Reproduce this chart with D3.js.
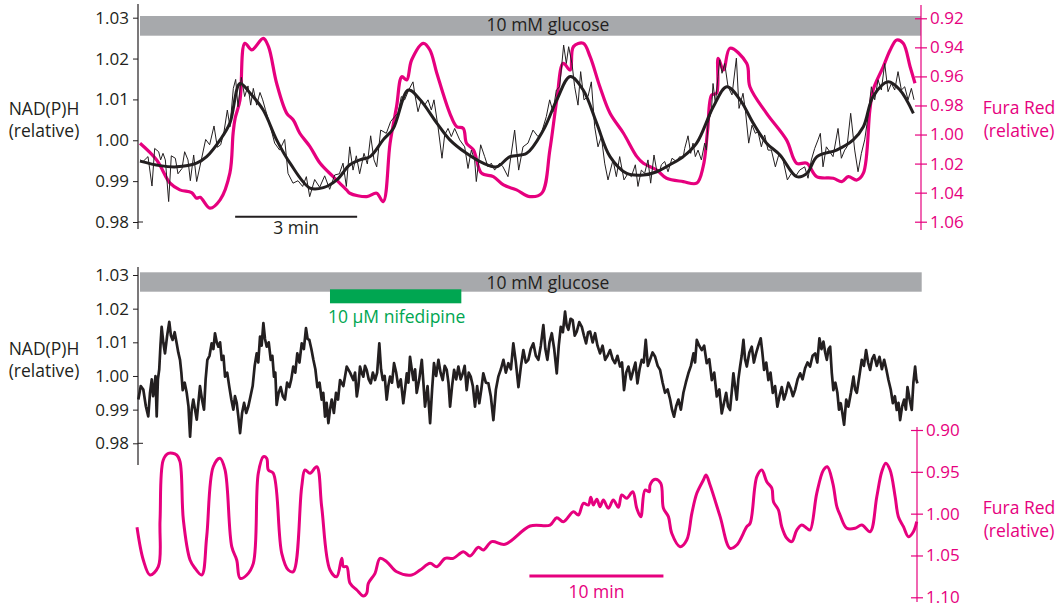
<!DOCTYPE html>
<html><head><meta charset="utf-8">
<script src="https://cdn.jsdelivr.net/npm/d3@7"></script>
<style>
body{margin:0;background:#fff;}
text{font-family:"Open Sans","Noto Sans",sans-serif;}
</style></head>
<body><svg id="c" width="1062" height="607"></svg>
<script>
// ---------------- DATA (time in minutes, values relative) ----------------
const nadTicks = [0.98, 0.99, 1.00, 1.01, 1.02, 1.03];
const furaTicksTop = [0.92, 0.94, 0.96, 0.98, 1.00, 1.02, 1.04, 1.06];
const furaTicksBottom = [0.90, 0.95, 1.00, 1.05, 1.10];
const glucoseLabel = "10 mM glucose";
const nifedipineLabel = "10 µM nifedipine";
const nifedipinePeriod = [14.4, 24.2];
const scaleBarTop = [2.34, 5.34];      // 3 min
const scaleBarBottom = [29.28, 39.28]; // 10 min

const topFuraRed = [[0,1.006],[0.41,1.0175],[0.74,1.0335],[0.98,1.0381],[1.27,1.040],[1.39,1.0438],[1.48,1.0432],[1.72,1.0507],[1.97,1.045],[2.21,1.0266],[2.29,0.9991],[2.34,0.9888],[2.46,0.9762],[2.58,0.9372],[2.75,0.9418],[3.03,0.9338],[3.16,0.9395],[3.36,0.9647],[3.61,0.9854],[3.77,0.990],[3.93,0.9991],[4.18,1.0083],[4.43,1.0198],[4.75,1.029],[5.08,1.0381],[5.16,1.0404],[5.58,1.0427],[5.82,1.0404],[5.98,1.0462],[6.15,1.006],[6.31,0.9808],[6.44,0.9602],[6.56,0.9624],[6.68,0.9487],[6.97,0.9372],[7.13,0.9418],[7.30,0.9578],[7.62,0.9854],[7.79,0.9946],[7.95,0.9957],[8.03,1.006],[8.20,1.0106],[8.40,1.0266],[8.69,1.029],[8.94,1.0347],[9.26,1.0381],[9.59,1.0427],[9.88,1.0404],[10.08,1.0106],[10.25,0.9762],[10.41,0.951],[10.58,0.9556],[10.66,0.9395],[10.90,0.9372],[11.07,0.9464],[11.31,0.9671],[11.56,0.9854],[11.89,0.9991],[12.22,1.0152],[12.38,1.0198],[12.71,1.0244],[12.95,1.0301],[13.36,1.0324],[13.69,1.0335],[13.85,1.0221],[13.96,0.9969],[14.06,0.9728],[14.18,0.9716],[14.22,0.9475],[14.35,0.9556],[14.51,0.9406],[14.92,0.951],[15.0,0.9671],[15.41,0.9854],[15.9,1.0037],[16.15,1.0198],[16.40,1.0198],[16.64,1.029],[17.05,1.0301],[17.26,1.0324],[17.42,1.029],[17.63,1.0313],[17.79,1.0266],[17.95,0.9831],[18.03,0.9693],[18.28,0.9533],[18.45,0.9418],[18.61,0.9349],[18.77,0.9372],[18.94,0.9533],[19.06,0.9647]];

const topNadSmooth = [[0,0.9949],[0.49,0.9938],[0.90,0.9935],[1.39,0.9944],[1.64,0.996],[1.97,1.0001],[2.21,1.0042],[2.46,1.0139],[2.71,1.0115],[3.03,1.0074],[3.36,1.0001],[3.69,0.9944],[4.18,0.9883],[4.51,0.9884],[4.84,0.9903],[5.16,0.994],[5.41,0.9952],[5.66,0.996],[5.98,1.0001],[6.23,1.0029],[6.60,1.0123],[6.89,1.0099],[7.30,1.0042],[7.62,1.0001],[8.03,0.9968],[8.44,0.9944],[8.77,0.9935],[9.10,0.996],[9.51,0.9968],[9.92,1.0025],[10.25,1.0099],[10.58,1.0156],[10.90,1.0123],[11.23,1.0042],[11.56,0.996],[11.97,0.9919],[12.38,0.9915],[12.71,0.9923],[13.03,0.994],[13.36,0.996],[13.69,0.9993],[14.10,1.0082],[14.43,1.0131],[14.76,1.0099],[15.08,1.0042],[15.41,0.9993],[15.74,0.9964],[16.15,0.9911],[16.40,0.9919],[16.65,0.996],[17.13,0.9976],[17.54,1.0001],[17.79,1.0033],[18.03,1.0107],[18.40,1.0143],[18.69,1.0123],[19.02,1.0066]];

const topNadRaw = [[0,0.9952],[0.074,0.9948],[0.197,0.9960],[0.295,0.9888],[0.361,0.9980],[0.459,0.9972],[0.508,0.9952],[0.566,0.9968],[0.623,0.9952],[0.705,0.9850],[0.770,0.9962],[0.869,0.9956],[0.934,0.9918],[1.033,0.9931],[1.098,0.9972],[1.180,0.9952],[1.238,0.9901],[1.320,0.9964],[1.394,0.9899],[1.508,0.9952],[1.615,1.0002],[1.713,0.9989],[1.820,1.0035],[1.902,0.9983],[1.984,0.9989],[2.066,1.0021],[2.148,1.0074],[2.213,1.0033],[2.295,1.0127],[2.353,1.0149],[2.410,1.0082],[2.492,1.0154],[2.574,1.0107],[2.656,1.0133],[2.722,1.0086],[2.787,1.0127],[2.869,1.0086],[2.951,1.0117],[3.017,1.0099],[3.082,1.0076],[3.189,1.0040],[3.312,0.9993],[3.435,0.9976],[3.558,1.0002],[3.640,0.9919],[3.763,0.9895],[3.886,0.9901],[4.000,0.9887],[4.091,0.9911],[4.173,0.9862],[4.296,0.9904],[4.419,0.9885],[4.542,0.9913],[4.665,0.9880],[4.788,0.9915],[4.903,0.9918],[4.993,0.9944],[5.075,0.9887],[5.157,0.9984],[5.239,0.9927],[5.320,0.9962],[5.402,0.9918],[5.509,0.9968],[5.591,0.9942],[5.673,1.0011],[5.755,0.9952],[5.821,0.9935],[5.919,1.0025],[6.058,1.0017],[6.165,1.0046],[6.263,1.0058],[6.345,1.0066],[6.427,1.0107],[6.509,1.0099],[6.607,1.0123],[6.714,1.0143],[6.755,1.0115],[6.837,1.0070],[6.919,1.0099],[7.001,1.0086],[7.083,1.0099],[7.165,1.0074],[7.230,1.0099],[7.329,1.0033],[7.427,0.9956],[7.493,1.0013],[7.575,1.0029],[7.657,1.0009],[7.739,1.0029],[7.862,1.0001],[7.985,0.9984],[8.067,0.9931],[8.149,0.9976],[8.230,0.9952],[8.271,0.9899],[8.378,0.9989],[8.476,0.9960],[8.558,0.9935],[8.640,0.9944],[8.722,0.9927],[8.845,0.9944],[8.927,0.9935],[9.050,0.9911],[9.214,1.0025],[9.313,0.9927],[9.419,0.9984],[9.542,0.9993],[9.665,1.0025],[9.788,1.0009],[9.870,1.0017],[9.993,1.0058],[10.075,1.0099],[10.157,1.0070],[10.239,1.0123],[10.321,1.0131],[10.419,1.0233],[10.485,1.0188],[10.542,1.0229],[10.624,1.0188],[10.690,1.0131],[10.772,1.0086],[10.837,1.0168],[10.919,1.0099],[11.018,1.0107],[11.100,1.0143],[11.182,1.0033],[11.264,0.9984],[11.346,1.0009],[11.428,0.9944],[11.510,0.9903],[11.633,0.9952],[11.715,0.9911],[11.797,0.9960],[11.903,0.9903],[12.002,0.9919],[12.083,0.9911],[12.182,0.9940],[12.247,0.9887],[12.329,0.9927],[12.411,0.9919],[12.493,0.9952],[12.559,0.9895],[12.641,0.9964],[12.706,0.9927],[12.788,0.9927],[12.822,0.9940],[12.904,0.9948],[12.986,0.9923],[13.084,0.9956],[13.191,0.9948],[13.273,0.9960],[13.355,0.9956],[13.396,0.9980],[13.478,1.0011],[13.543,0.9968],[13.601,0.9993],[13.658,0.9960],[13.724,0.9976],[13.806,0.9952],[13.888,0.9993],[13.929,0.9976],[13.970,1.0042],[14.052,1.0070],[14.093,1.0139],[14.150,1.0090],[14.216,1.0156],[14.257,1.0197],[14.314,1.0164],[14.380,1.0188],[14.462,1.0131],[14.560,1.0111],[14.667,1.0201],[14.732,1.0078],[14.830,1.0115],[14.888,1.0074],[14.970,0.9993],[15.052,1.0037],[15.134,1.0017],[15.199,1.0021],[15.281,0.9984],[15.363,1.0013],[15.445,0.9976],[15.527,0.9976],[15.626,0.9935],[15.708,0.9964],[15.814,0.9952],[15.921,0.9903],[16.019,0.9919],[16.118,0.9911],[16.224,0.9927],[16.347,0.9935],[16.429,0.9907],[16.511,0.9952],[16.593,0.9980],[16.675,1.0001],[16.732,1.0017],[16.798,0.9935],[16.880,0.9984],[16.962,0.9972],[17.044,0.9960],[17.167,1.0029],[17.249,0.9956],[17.331,0.9976],[17.388,0.9984],[17.478,1.0066],[17.577,0.9976],[17.659,0.9923],[17.741,0.9968],[17.823,1.0001],[17.905,1.0058],[17.987,1.0131],[18.069,1.0099],[18.151,1.0148],[18.233,1.0123],[18.315,1.0188],[18.397,1.0119],[18.479,1.0139],[18.561,1.0123],[18.643,1.0168],[18.725,1.0123],[18.807,1.0131],[18.889,1.0099],[18.971,1.0127],[19.036,1.0099]];

const bottomNad = [[0.10,0.993],[0.28,0.997],[0.47,0.996],[0.66,0.991],[0.84,0.988],[0.97,0.995],[1.10,0.999],[1.20,0.994],[1.29,0.996],[1.38,1.000],[1.47,0.988],[1.56,0.999],[1.66,1.002],[1.75,1.009],[1.84,1.0146],[1.96,1.010],[2.09,1.0067],[2.25,1.012],[2.41,1.0161],[2.53,1.012],[2.66,1.0107],[2.81,1.013],[2.96,1.0097],[3.08,1.007],[3.21,1.0048],[3.31,1.001],[3.41,0.9958],[3.56,0.998],[3.71,0.995],[3.84,0.991],[3.96,0.982],[4.08,0.990],[4.20,0.993],[4.33,0.990],[4.46,0.987],[4.58,0.992],[4.70,0.997],[4.85,0.993],[5.00,0.990],[5.12,0.999],[5.25,1.0048],[5.41,1.006],[5.57,1.0097],[5.70,1.008],[5.82,1.0127],[5.95,1.010],[6.07,1.0087],[6.20,1.010],[6.32,1.0048],[6.45,1.006],[6.57,0.9998],[6.73,1.001],[6.89,0.9967],[7.04,0.993],[7.19,0.990],[7.31,0.994],[7.44,0.992],[7.56,0.988],[7.69,0.983],[7.84,0.989],[7.99,0.992],[8.15,0.989],[8.31,0.991],[8.47,0.994],[8.63,0.997],[8.78,1.003],[8.93,1.0067],[9.05,1.004],[9.18,1.0117],[9.30,1.009],[9.43,1.0157],[9.55,1.011],[9.68,1.0087],[9.83,1.010],[9.98,1.0048],[10.10,1.006],[10.22,0.9998],[10.32,1.001],[10.42,0.9914],[10.57,0.995],[10.72,0.9967],[10.88,0.994],[11.04,0.993],[11.20,0.998],[11.37,0.9967],[11.51,0.999],[11.66,1.0028],[11.81,1.001],[11.96,1.0067],[12.12,1.004],[12.29,1.0097],[12.45,1.008],[12.61,1.0142],[12.73,1.011],[12.86,1.0107],[13.01,1.008],[13.16,1.0048],[13.31,1.002],[13.46,0.9967],[13.62,0.998],[13.78,0.993],[13.90,0.995],[14.03,0.9879],[14.15,0.992],[14.28,0.986],[14.40,0.990],[14.53,0.993],[14.69,0.989],[14.85,0.995],[15.00,0.993],[15.15,0.9988],[15.40,0.997],[15.65,1.0028],[15.90,1.001],[16.14,0.9988],[16.27,1.001],[16.40,0.9939],[16.52,0.997],[16.64,1.0028],[16.76,1.001],[16.89,0.9998],[17.01,1.003],[17.14,1.0018],[17.29,0.999],[17.44,0.9978],[17.60,1.001],[17.76,0.9988],[17.92,1.001],[18.08,1.0097],[18.21,1.002],[18.34,0.9988],[18.48,1.000],[18.63,0.993],[18.75,0.997],[18.88,0.9998],[19.03,0.998],[19.18,1.0038],[19.34,1.001],[19.50,0.9967],[19.68,0.999],[19.87,0.9919],[20.00,0.996],[20.13,1.0008],[20.25,0.998],[20.37,1.0057],[20.50,1.002],[20.62,0.9988],[20.75,1.002],[20.87,0.995],[21.06,0.999],[21.25,1.0048],[21.37,0.998],[21.49,0.9909],[21.68,0.997],[21.87,0.986],[22.02,0.996],[22.16,1.0038],[22.32,1.000],[22.49,1.0048],[22.65,1.001],[22.81,0.9988],[22.96,1.003],[23.11,1.0018],[23.24,0.998],[23.36,0.9909],[23.51,0.997],[23.66,1.0018],[23.82,0.999],[23.98,1.0028],[24.15,0.999],[24.31,1.0008],[24.45,1.003],[24.60,0.9958],[24.75,1.001],[24.90,0.9998],[25.06,0.997],[25.22,0.9909],[25.38,0.997],[25.54,0.9919],[25.69,0.996],[25.84,1.0008],[26.03,0.998],[26.22,0.9978],[26.40,0.994],[26.59,0.9869],[26.78,0.996],[26.96,0.9998],[27.15,1.002],[27.34,1.0048],[27.52,1.001],[27.71,1.0038],[27.90,1.002],[28.08,1.0097],[28.27,1.004],[28.46,0.9967],[28.65,1.003],[28.83,1.0077],[29.01,1.004],[29.20,1.0048],[29.38,1.008],[29.57,1.0097],[29.76,1.006],[29.95,1.0048],[30.13,1.009],[30.32,1.0151],[30.47,1.008],[30.62,1.0048],[30.78,1.010],[30.95,1.0127],[31.13,1.008],[31.32,1.0008],[31.47,1.009],[31.62,1.0146],[31.78,1.013],[31.94,1.0191],[32.06,1.015],[32.19,1.0137],[32.35,1.017],[32.51,1.0166],[32.66,1.012],[32.81,1.0132],[33.00,1.016],[33.19,1.0146],[33.35,1.012],[33.51,1.0097],[33.66,1.013],[33.81,1.0132],[34.00,1.010],[34.18,1.0127],[34.36,1.009],[34.55,1.0067],[34.74,1.009],[34.93,1.0048],[35.11,1.006],[35.30,1.0077],[35.49,1.005],[35.67,1.0038],[35.85,1.006],[36.04,1.0028],[36.19,1.004],[36.34,0.9958],[36.50,1.001],[36.67,1.0028],[36.85,0.999],[37.04,1.0018],[37.19,1.004],[37.34,0.9978],[37.50,1.002],[37.66,1.0048],[37.81,1.004],[37.96,1.0107],[38.12,1.003],[38.28,1.0048],[38.47,1.007],[38.66,1.0057],[38.85,1.003],[39.03,1.0018],[39.22,0.998],[39.40,0.995],[39.59,0.996],[39.78,0.993],[39.92,0.990],[40.07,0.9879],[40.23,0.991],[40.40,0.993],[40.58,0.990],[40.77,0.995],[40.95,0.998],[41.14,1.0008],[41.33,1.003],[41.52,1.0067],[41.64,1.004],[41.77,1.0107],[41.95,1.009],[42.14,1.0077],[42.32,1.009],[42.51,1.0038],[42.70,1.005],[42.89,0.9988],[43.07,1.001],[43.26,0.9939],[43.45,0.996],[43.63,0.9889],[43.80,0.992],[43.96,0.995],[44.10,0.991],[44.25,0.9899],[44.37,0.995],[44.50,1.0008],[44.62,0.997],[44.75,0.993],[44.87,0.999],[45.00,1.0028],[45.12,1.006],[45.25,1.0107],[45.37,1.005],[45.50,1.0028],[45.69,1.007],[45.87,1.0087],[46.03,1.004],[46.19,1.0067],[46.36,1.009],[46.54,1.0112],[46.66,1.007],[46.79,1.0018],[46.95,1.004],[47.11,0.9988],[47.27,1.001],[47.44,0.995],[47.61,0.997],[47.78,0.9909],[47.94,0.994],[48.11,0.9967],[48.27,0.993],[48.43,0.995],[48.60,0.998],[48.78,0.9963],[48.94,0.994],[49.10,0.9958],[49.29,0.999],[49.48,1.0008],[49.66,0.999],[49.85,1.0023],[50.03,1.004],[50.22,1.0028],[50.41,1.006],[50.60,1.0067],[50.76,1.004],[50.92,1.0112],[51.07,1.008],[51.22,1.0102],[51.35,1.007],[51.47,1.0048],[51.60,1.008],[51.72,1.0087],[51.84,1.001],[51.96,0.9958],[52.11,0.998],[52.26,0.995],[52.38,0.990],[52.51,0.9919],[52.63,0.989],[52.76,0.9855],[52.92,0.993],[53.08,0.9909],[53.27,0.995],[53.46,0.9998],[53.58,0.996],[53.71,0.995],[53.90,1.000],[54.08,1.0048],[54.24,1.003],[54.40,1.0077],[54.55,1.004],[54.70,1.0018],[54.85,1.005],[55.00,1.0062],[55.20,1.003],[55.40,1.0057],[55.58,1.002],[55.75,1.0048],[55.91,1.002],[56.07,0.9988],[56.24,0.996],[56.40,0.9919],[56.55,0.994],[56.69,0.9899],[56.82,0.992],[56.94,0.9869],[57.09,0.991],[57.24,0.993],[57.37,0.990],[57.49,0.9967],[57.65,0.993],[57.81,0.9899],[57.93,0.998],[58.06,1.0028],[58.15,0.999],[58.23,0.9978]];

const bottomFuraRed = [[0,1.0163],[0.47,1.0554],[0.97,1.0733],[1.59,1.0634],[1.72,1.0076],[1.96,0.9359],[2.34,0.9279],[2.96,0.9299],[3.21,0.9379],[3.46,1.0076],[3.96,1.0554],[4.33,1.0653],[4.83,1.0733],[5.20,1.0276],[5.69,0.9439],[6.19,0.9338],[6.57,0.9478],[7.07,1.0395],[7.44,1.0554],[7.69,1.0773],[8.19,1.0733],[8.68,1.0594],[9.05,0.9518],[9.43,0.9319],[9.68,0.9338],[9.80,0.9478],[10.17,0.9518],[10.80,1.0474],[11.29,1.0674],[11.66,1.0694],[12.29,0.9678],[12.54,0.9478],[12.91,0.9518],[13.41,0.9439],[13.78,0.9917],[14.40,1.0674],[14.90,1.0754],[15.28,1.0534],[15.40,1.0634],[15.65,1.0634],[15.90,1.0833],[16.40,1.0913],[16.89,1.0985],[17.14,1.0952],[17.26,1.0833],[17.76,1.0713],[18.13,1.0534],[18.63,1.0574],[19.38,1.0694],[20.50,1.0733],[21.12,1.0674],[21.87,1.0594],[22.37,1.0634],[22.99,1.0534],[23.60,1.0534],[24.35,1.0455],[24.85,1.0506],[25.47,1.0402],[25.84,1.0435],[26.47,1.0335],[27.46,1.0366],[29.33,1.0148],[30.82,1.0136],[31.32,1.0048],[31.81,1.0096],[32.56,0.9977],[32.93,1.0016],[33.31,0.9876],[33.68,0.9897],[33.86,0.9805],[34.05,0.9897],[34.31,0.9828],[34.55,0.9917],[34.80,0.9837],[35.17,0.9936],[35.54,0.9837],[35.92,0.9924],[36.17,0.9777],[36.54,0.9817],[36.99,0.9738],[37.29,0.9936],[37.59,1.0036],[37.91,0.9717],[38.23,0.9738],[38.28,0.9658],[38.66,0.9589],[39.08,0.9637],[39.28,0.9936],[39.65,1.0036],[39.90,1.0235],[40.52,1.0395],[41.02,1.0315],[41.40,0.9996],[41.77,0.9757],[42.26,0.9598],[42.46,0.9538],[42.76,0.9658],[43.51,1.0036],[44.25,1.0414],[44.75,1.0375],[45.50,1.0156],[45.75,1.0115],[46.25,0.9558],[46.62,0.9478],[46.99,0.9618],[47.37,0.9697],[47.49,0.9857],[47.86,0.9956],[48.11,1.0156],[48.49,1.0295],[48.86,1.0335],[49.23,1.0196],[49.60,1.0136],[49.98,1.0175],[50.22,1.0196],[50.72,0.9757],[51.22,0.9478],[51.51,0.9439],[51.92,0.9637],[52.22,0.9917],[52.46,1.0016],[52.96,1.0175],[53.58,1.0175],[54.08,1.0136],[54.70,1.0216],[55.20,0.9797],[55.57,0.9499],[55.87,0.9398],[56.19,0.9478],[56.57,0.9797],[56.81,1.0036],[57.19,1.0156],[57.56,1.0276],[57.93,1.0216],[58.18,1.0096]];

// ---------------- STYLE ----------------
const INK = "#231f20", PINK = "#e6007e", GRAY = "#a7a9ac", GREEN = "#00a651";
const FS = 17.5, FST = 17;
const svg = d3.select("#c");

// ---------------- SCALES ----------------
const xTop = d3.scaleLinear().domain([0, 19.06]).range([140, 915]);
const yTopL = d3.scaleLinear().domain([0.98, 1.03]).range([222, 17.7]);
const yTopR = d3.scaleLinear().domain([0.92, 1.06]).range([18.3, 221.7]);
const xBot = d3.scaleLinear().domain([0, 58.2]).range([137, 917]);
const yBotL = d3.scaleLinear().domain([0.98, 1.03]).range([443.3, 275]);
const yBotR = d3.scaleLinear().domain([0.90, 1.10]).range([430, 597.3]);

function leftAxis(y, x, y0, y1) {
  const g = svg.append("g").attr("transform", `translate(${x},0)`)
    .call(d3.axisLeft(y).tickValues(nadTicks).tickFormat(d3.format(".2f")).tickSize(5).tickPadding(4));
  g.select(".domain").remove();
  g.selectAll(".tick line").attr("stroke", INK).attr("stroke-width", 1);
  g.selectAll(".tick text").attr("fill", INK).attr("font-size", FST).attr("font-family", "Open Sans");
  g.append("line").attr("x1", 0).attr("x2", 0).attr("y1", y0).attr("y2", y1).attr("stroke", INK).attr("stroke-width", 1.2);
  g.append("line").attr("x1", 0).attr("x2", 5).attr("y1", y(0.98)).attr("y2", y(0.98)).attr("stroke", INK);
}
function rightAxis(y, x, ticks, y0, y1) {
  const g = svg.append("g").attr("transform", `translate(${x},0)`)
    .call(d3.axisRight(y).tickValues(ticks).tickFormat(d3.format(".2f")).tickSize(6).tickPadding(3));
  g.select(".domain").remove();
  g.selectAll(".tick line").attr("stroke", PINK).attr("x1", -6).attr("stroke-width", 1.2);
  g.selectAll(".tick text").attr("fill", PINK).attr("font-size", FST).attr("font-family", "Open Sans");
  g.append("line").attr("x1", 0).attr("x2", 0).attr("y1", y0).attr("y2", y1).attr("stroke", PINK).attr("stroke-width", 1.2);
}
function label(x, y, t, color, anchor) {
  svg.append("text").attr("x", x).attr("y", y).attr("text-anchor", anchor || "middle").attr("font-size", FS).attr("fill", color).text(t);
}

// ---------------- TOP PANEL ----------------
svg.append("rect").attr("x", xTop(0)).attr("y", 16).attr("width", 921 - xTop(0)).attr("height", 19.7).attr("fill", GRAY);
label(548, 31, glucoseLabel, INK);

leftAxis(yTopL, 138, 4, 229);
rightAxis(yTopR, 921, furaTicksTop, 5, 230);

const lineTopR = d3.line().x(d => xTop(d[0])).y(d => yTopR(d[1])).curve(d3.curveCatmullRom.alpha(0.5));
const lineTopLraw = d3.line().x(d => xTop(d[0])).y(d => yTopL(d[1]));
const lineTopLs = d3.line().x(d => xTop(d[0])).y(d => yTopL(d[1])).curve(d3.curveCatmullRom.alpha(0.5));

svg.append("path").datum(topFuraRed).attr("d", lineTopR).attr("fill", "none").attr("stroke", PINK).attr("stroke-width", 3.2).attr("stroke-linejoin", "round");
svg.append("path").datum(topNadRaw).attr("d", lineTopLraw).attr("fill", "none").attr("stroke", INK).attr("stroke-width", 1);
svg.append("path").datum(topNadSmooth).attr("d", lineTopLs).attr("fill", "none").attr("stroke", INK).attr("stroke-width", 3).attr("stroke-linejoin", "round");

svg.append("line").attr("x1", xTop(scaleBarTop[0])).attr("x2", xTop(scaleBarTop[1])).attr("y1", 216.7).attr("y2", 216.7).attr("stroke", INK).attr("stroke-width", 2);
label((xTop(scaleBarTop[0]) + xTop(scaleBarTop[1])) / 2, 234, "3 min", INK);

label(44, 115, "NAD(P)H", INK);
label(44, 137, "(relative)", INK);
label(1019, 114, "Fura Red", PINK);
label(1019, 137, "(relative)", PINK);

// ---------------- BOTTOM PANEL ----------------
svg.append("rect").attr("x", xBot(0) + 3).attr("y", 272.3).attr("width", 921.7 - xBot(0) - 3).attr("height", 19.4).attr("fill", GRAY);
label(548, 288.5, glucoseLabel, INK);
svg.append("rect").attr("x", xBot(nifedipinePeriod[0])).attr("y", 289.3).attr("width", xBot(nifedipinePeriod[1]) - xBot(nifedipinePeriod[0])).attr("height", 14).attr("fill", GREEN);
label((xBot(nifedipinePeriod[0]) + xBot(nifedipinePeriod[1])) / 2 + 1, 323, nifedipineLabel, GREEN);

leftAxis(yBotL, 138, 267, 465);
rightAxis(yBotR, 917, furaTicksBottom, 427, 602);

const lineBotL = d3.line().x(d => xBot(d[0])).y(d => yBotL(d[1]));
const lineBotR = d3.line().x(d => xBot(d[0])).y(d => yBotR(d[1])).curve(d3.curveCatmullRom.alpha(0.5));
svg.append("path").datum(bottomNad).attr("d", lineBotL).attr("fill", "none").attr("stroke", INK).attr("stroke-width", 2.7).attr("stroke-linejoin", "round");
svg.append("path").datum(bottomFuraRed).attr("d", lineBotR).attr("fill", "none").attr("stroke", PINK).attr("stroke-width", 3).attr("stroke-linejoin", "round");

svg.append("line").attr("x1", xBot(scaleBarBottom[0])).attr("x2", xBot(scaleBarBottom[1])).attr("y1", 576).attr("y2", 576).attr("stroke", PINK).attr("stroke-width", 3);
label((xBot(scaleBarBottom[0]) + xBot(scaleBarBottom[1])) / 2, 597.5, "10 min", PINK);

label(44, 355, "NAD(P)H", INK);
label(44, 377, "(relative)", INK);
label(1019, 514, "Fura Red", PINK);
label(1019, 537, "(relative)", PINK);
</script></body></html>
